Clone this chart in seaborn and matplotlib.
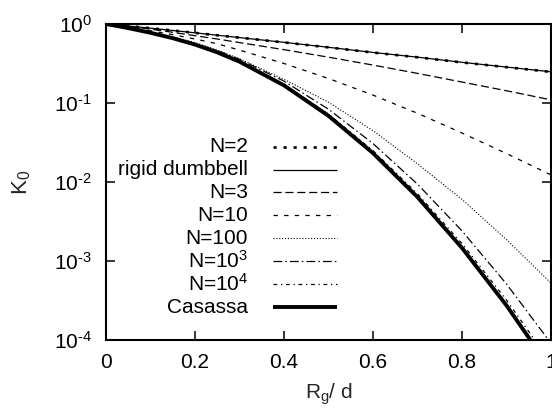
import numpy as np
import pandas as pd
import matplotlib
matplotlib.use("Agg")
import matplotlib.pyplot as plt
import seaborn as sns
from matplotlib.ticker import FixedLocator, NullLocator, FixedFormatter

# ---------------- data ----------------
rg_over_d = [0.0, 0.025, 0.05, 0.1, 0.15, 0.2, 0.25, 0.3, 0.4, 0.5, 0.6, 0.7, 0.8, 0.9, 1.0]

k_n2 = [1.0, 0.9725, 0.9438, 0.8845, 0.8270, 0.7715, 0.7198, 0.6716, 0.5845, 0.5055,
        0.4350, 0.3790, 0.3262, 0.2842, 0.2475]
k_rigid = [1.0, 0.9727, 0.9441, 0.8851, 0.8279, 0.7727, 0.7211, 0.6730, 0.5861, 0.5070,
           0.4365, 0.3802, 0.3273, 0.2851, 0.2483]
k_n3 = [1.0, 0.9661, 0.9333, 0.8610, 0.7852, 0.7112, 0.6457, 0.5821, 0.4732, 0.3802,
        0.3020, 0.2371, 0.1841, 0.1429, 0.1096]
k_n10 = [1.0, 0.955, 0.912, 0.822, 0.733, 0.6457, 0.5623, 0.4677, 0.3162, 0.2042,
         0.1259, 0.07413, 0.04169, 0.02291, 0.0123]
k_n100 = [1.0, 0.9462, 0.8933, 0.7889, 0.6887, 0.5821, 0.4677, 0.3631, 0.1995, 0.1023,
          0.04467, 0.01698, 0.006026, 0.001862, 0.0005248]
k_n1e3 = [1.0, 0.9458, 0.8917, 0.7834, 0.675, 0.5668, 0.4597, 0.3576, 0.1891, 0.08341,
          0.030665, 0.009399, 0.0024035, 0.0005117, 0.00009096]
k_n1e4 = [1.0, 0.9441, 0.8883, 0.7766, 0.6648, 0.5533, 0.4432, 0.3394, 0.17244, 0.07219,
          0.024909, 0.007083, 0.0016599, 0.00031995, 0.00005109]
k_casassa = [1.0, 0.9436, 0.887, 0.774, 0.6614, 0.5488, 0.4377, 0.3335, 0.1671, 0.06874,
             0.02320, 0.006434, 0.001464, 0.0002737, 0.0000420]

series_labels = ["N=2", "rigid dumbbell", "N=3", "N=10", "N=100",
                 r"N=10$^{3}$", r"N=10$^{4}$", "Casassa"]
series_values = [k_n2, k_rigid, k_n3, k_n10, k_n100, k_n1e3, k_n1e4, k_casassa]

x_ticks = [0, 0.2, 0.4, 0.6, 0.8, 1.0]
x_tick_labels = ["0", "0.2", "0.4", "0.6", "0.8", "1"]
y_ticks = [1e-4, 1e-3, 1e-2, 1e-1, 1e0]
y_tick_labels = ["10$^{\u20104}$", "10$^{\u20103}$", "10$^{\u20102}$",
                 "10$^{\u20101}$", "10$^{0}$"]

# ---------------- styles ----------------
styles = [
    dict(linestyle=(0, (1.2, 2.6)), linewidth=1.9),          # N=2
    dict(linestyle="-", linewidth=0.9),                       # rigid dumbbell
    dict(linestyle=(0, (6.5, 3.0)), linewidth=0.9),           # N=3
    dict(linestyle=(0, (3.5, 5.0)), linewidth=0.9),           # N=10
    dict(linestyle=(0, (1.0, 1.6)), linewidth=0.8),           # N=100
    dict(linestyle=(0, (7.0, 2.5, 1.2, 2.5)), linewidth=0.9), # N=1e3
    dict(linestyle=(0, (3.0, 3.0, 1.0, 3.0)), linewidth=0.9), # N=1e4
    dict(linestyle="-", linewidth=2.8),                       # Casassa
]

sns.set_theme(style="ticks")
plt.rcParams["font.family"] = ["Liberation Sans", "DejaVu Sans"]
plt.rcParams["mathtext.fontset"] = "custom"
plt.rcParams["mathtext.rm"] = "Liberation Sans"
plt.rcParams["mathtext.it"] = "Liberation Sans:italic"
plt.rcParams["mathtext.default"] = "regular"

FS = 15

fig = plt.figure(figsize=(5.52, 4.11), dpi=100)
ax = fig.add_axes([106 / 552, 71 / 411, 445 / 552, 316 / 411])

frames = []
for lab, vals in zip(series_labels, series_values):
    frames.append(pd.DataFrame({"x": rg_over_d, "K": vals, "series": lab}))
df = pd.concat(frames, ignore_index=True)

for lab, st in zip(series_labels, styles):
    sub = df[df["series"] == lab]
    sns.lineplot(data=sub, x="x", y="K", ax=ax, color="black",
                 estimator=None, sort=False, legend=False,
                 solid_capstyle="butt", dash_capstyle="butt", **st)

ax.set_yscale("log")
ax.set_xlim(0, 1)
ax.set_ylim(1e-4, 1)
ax.xaxis.set_major_locator(FixedLocator(x_ticks))
ax.xaxis.set_major_formatter(FixedFormatter(x_tick_labels))
ax.yaxis.set_major_locator(FixedLocator(y_ticks))
ax.yaxis.set_major_formatter(FixedFormatter(y_tick_labels))
ax.yaxis.set_minor_locator(NullLocator())
ax.xaxis.set_minor_locator(NullLocator())

ax.tick_params(axis="both", which="major", direction="in", length=6.5, width=1.1,
               top=True, right=True, labelsize=FS, colors="black")
ax.tick_params(axis="x", pad=9)
ax.tick_params(axis="y", pad=10)
for sp in ax.spines.values():
    sp.set_linewidth(1.5)
    sp.set_color("black")
    sp.set_visible(True)

ax.set_xlabel(r"R$_{g}$/ d", fontsize=FS)
ax.set_ylabel(r"K$_{0}$", fontsize=FS + 1)
ax.xaxis.set_label_coords(0.5, -0.13)
ax.yaxis.set_label_coords(-0.165, 0.5)

# gnuplot-style key: right-aligned text, sample to the right
row_y = [0.612, 0.539, 0.467, 0.394, 0.322, 0.249, 0.177, 0.104]
for lab, st, yy in zip(series_labels, styles, row_y):
    ax.text(0.319, yy, lab, transform=ax.transAxes, ha="right", va="center",
            fontsize=FS, color="black")
    ax.plot([0.375, 0.519], [yy, yy], transform=ax.transAxes, color="black",
            solid_capstyle="butt", dash_capstyle="butt", **st)

fig.savefig("out.png", dpi=100)
